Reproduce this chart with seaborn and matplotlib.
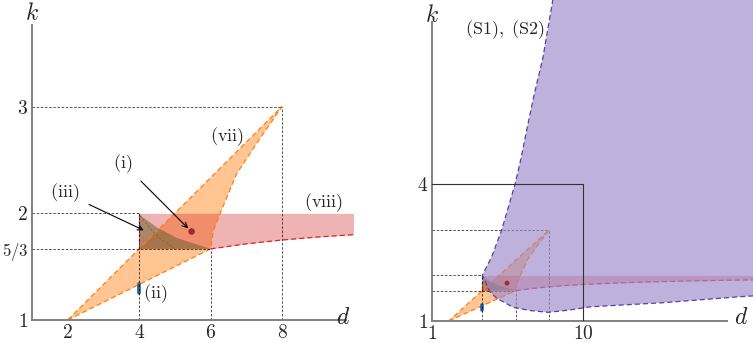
import numpy as np
import matplotlib.pyplot as plt
import seaborn as sns

# region (vii): orange quadrilateral with curved right edge
vii_d = [2, 6, 6.08, 6.27, 6.73, 7.3, 8, 2]
vii_k = [1, 5/3, 1.84, 2.0, 2.37, 2.66, 3, 1]

# region (viii): band under k=2, lower edge
viii_d = [4, 6, 7, 8, 9, 10, 12, 14, 16, 18, 20, 21]
viii_low = [5/3, 5/3, 1.714, 1.75, 1.778, 1.8, 1.833, 1.857, 1.875, 1.889, 1.9, 1.905]
viii_top = 2

# region (iii): curved triangle
iii_d = [4, 4, 6, 5.05, 4.49, 4.03, 4]
iii_k = [2, 5/3, 5/3, 1.77, 1.87, 1.98, 2]
iii_inner_d = [4.03, 4.3, 4.6, 5.0]
iii_inner_k = [1.98, 1.86, 1.76, 5/3]

# point (i) and segment (ii)
pt_i = (5.47, 1.83)
seg_ii_d = [4, 4]
seg_ii_k = [1.25, 1.34]

# region (S1),(S2) on the right
s_left_d = [8.3, 8.2, 7.6, 7.1, 6.68, 6.3, 5.95, 5.15, 4.56, 4]
s_left_k = [8.5, 8.03, 6.75, 5.98, 5.25, 4.55, 4.0, 2.99, 2.41, 2]
s_low_d = [4, 4.45, 4.85, 5.84, 6.83, 7.92, 9.2, 10.4, 14.75, 19.3, 21]
s_low_k = [2, 1.64, 1.50, 1.30, 1.23, 1.19, 1.24, 1.31, 1.40, 1.53, 1.57]

# guide lines to the corner points
corner_d = [4, 6, 8]
corner_k = [2, 5/3, 3]
box_d, box_k = 10, 4

sns.set_style("white")
plt.rcParams["mathtext.fontset"] = "cm"
plt.rcParams["font.family"] = ["DejaVu Serif"]

c_or = "#ff7f0e"
c_red = "#d62728"
c_pur = "#9c88c8"

fig = plt.figure(figsize=(7.53, 3.43), dpi=100)
ax1 = fig.add_axes([32/753, 23/343, 321/753, 320/343])
ax2 = fig.add_axes([432/753, 22/343, 321/753, 321/343])


def base(ax, dot_size):
    ax.fill(vii_d, vii_k, color=c_or, alpha=0.45, lw=0)
    sns.lineplot(x=vii_d, y=vii_k, sort=False, estimator=None, ax=ax,
                 color=c_or, lw=0.9, linestyle=(0, (4, 2.5)))
    ax.fill_between(viii_d, viii_low, viii_top, color=c_red, alpha=0.35, lw=0)
    sns.lineplot(x=viii_d[1:], y=viii_low[1:], sort=False, estimator=None, ax=ax,
                 color=c_red, lw=0.9, linestyle=(0, (4, 2.5)))
    sns.lineplot(x=[viii_d[0]] * 2, y=[viii_low[0], viii_top], sort=False,
                 estimator=None, ax=ax, color=c_red, lw=0.9, linestyle=(0, (3, 2)))
    ax.fill(iii_d, iii_k, color="#6e6030", alpha=0.55, lw=0)
    sns.lineplot(x=iii_inner_d, y=iii_inner_k, sort=False, estimator=None, ax=ax,
                 color="#5a5030", lw=0.6, alpha=0.5, linestyle=(0, (3, 2)))
    sns.lineplot(x=seg_ii_d, y=seg_ii_k, sort=False, estimator=None, ax=ax,
                 color="#1f5fa0", lw=2.6)
    sns.scatterplot(x=[pt_i[0]], y=[pt_i[1]], ax=ax, color="#a02828", s=dot_size,
                    edgecolor="none", zorder=5)


def guides(ax):
    x0 = ax.get_xlim()[0]
    y0 = ax.get_ylim()[0]
    for d, k in zip(corner_d, corner_k):
        ax.plot([x0, d], [k, k], color="k", lw=0.6, alpha=0.8, ls=(0, (3, 2)))
        ax.plot([d, d], [y0, k], color="k", lw=0.6, alpha=0.8, ls=(0, (3, 2)))


def frame(ax, xtop, ytop):
    for s in ["top", "right"]:
        ax.spines[s].set_visible(False)
    for s in ["left", "bottom"]:
        ax.spines[s].set_color("#808080")
        ax.spines[s].set_linewidth(1.4)
    ax.spines["left"].set_bounds(1, ytop)
    ax.spines["bottom"].set_bounds(1, xtop)
    ax.tick_params(length=0, labelsize=14, pad=3)
    ax.set_xlabel("")
    ax.set_ylabel("")


# left panel
ax1.set_xlim(1, 9.99)
ax1.set_ylim(1, 4.0)
base(ax1, 22)
guides(ax1)
frame(ax1, 9.8, 3.77)
ax1.set_xticks([2, 4, 6, 8], [r"$2$", r"$4$", r"$6$", r"$8$"])
ax1.set_yticks([1, 5/3, 2, 3], [r"$1$", r"$5/3$", r"$2$", r"$3$"])
ax1.get_yticklabels()[1].set_fontsize(12)

txt = dict(fontsize=13, ha="center", va="center")
ax1.text(6.46, 2.72, r"$\mathrm{(vii)}$", **txt)
ax1.text(9.15, 2.10, r"$\mathrm{(viii)}$", **txt)
ax1.text(4.45, 1.25, r"$\mathrm{(ii)}$", **txt)
arr = dict(arrowstyle="->", color="k", lw=0.8, mutation_scale=9, shrinkA=5)
ax1.annotate(r"$\mathrm{(i)}$", xy=(pt_i[0] - 0.04, pt_i[1] + 0.01), xytext=(3.55, 2.47),
             arrowprops=arr, **txt)
ax1.annotate(r"$\mathrm{(iii)}$", xy=(4.2, 1.83), xytext=(1.92, 2.19),
             arrowprops=arr, **txt)

# right panel
ax2.set_xlim(1, 20.13)
ax2.set_ylim(1, 8.03)
base(ax2, 12)
pur_d = s_left_d + s_low_d[1:] + [s_low_d[-1]]
pur_k = s_left_k + s_low_k[1:] + [8.5]
ax2.fill(pur_d, pur_k, color=c_pur, alpha=0.65, lw=0, zorder=3)
sns.lineplot(x=s_left_d + s_low_d[1:], y=s_left_k + s_low_k[1:], sort=False,
             estimator=None, ax=ax2, color="#5a3fa8", lw=0.9,
             linestyle=(0, (4, 2.5)), zorder=4)
guides(ax2)
ax2.plot([1, box_d], [box_k, box_k], color="#333333", lw=0.8, zorder=6)
ax2.plot([box_d, box_d], [1, box_k], color="#333333", lw=0.8, zorder=6)
frame(ax2, 18.6, 7.55)
ax2.set_xticks([1, 10], [r"$1$", r"$10$"])
ax2.set_yticks([1, 4], [r"$1$", r"$4$"])
ax2.text(5.35, 7.37, r"$\mathrm{(S1),\ (S2)}$", fontsize=13, ha="center",
         va="center", zorder=7)

# axis names
fig.text(32/753, 1 - 14/343, r"$k$", fontsize=17, ha="center", va="center")
fig.text(343/753, 1 - 318/343, r"$d$", fontsize=17, ha="center", va="center")
fig.text(432/753, 1 - 15/343, r"$k$", fontsize=17, ha="center", va="center")
fig.text(741/753, 1 - 318/343, r"$d$", fontsize=17, ha="center", va="center")

fig.savefig("out.png", dpi=100)
